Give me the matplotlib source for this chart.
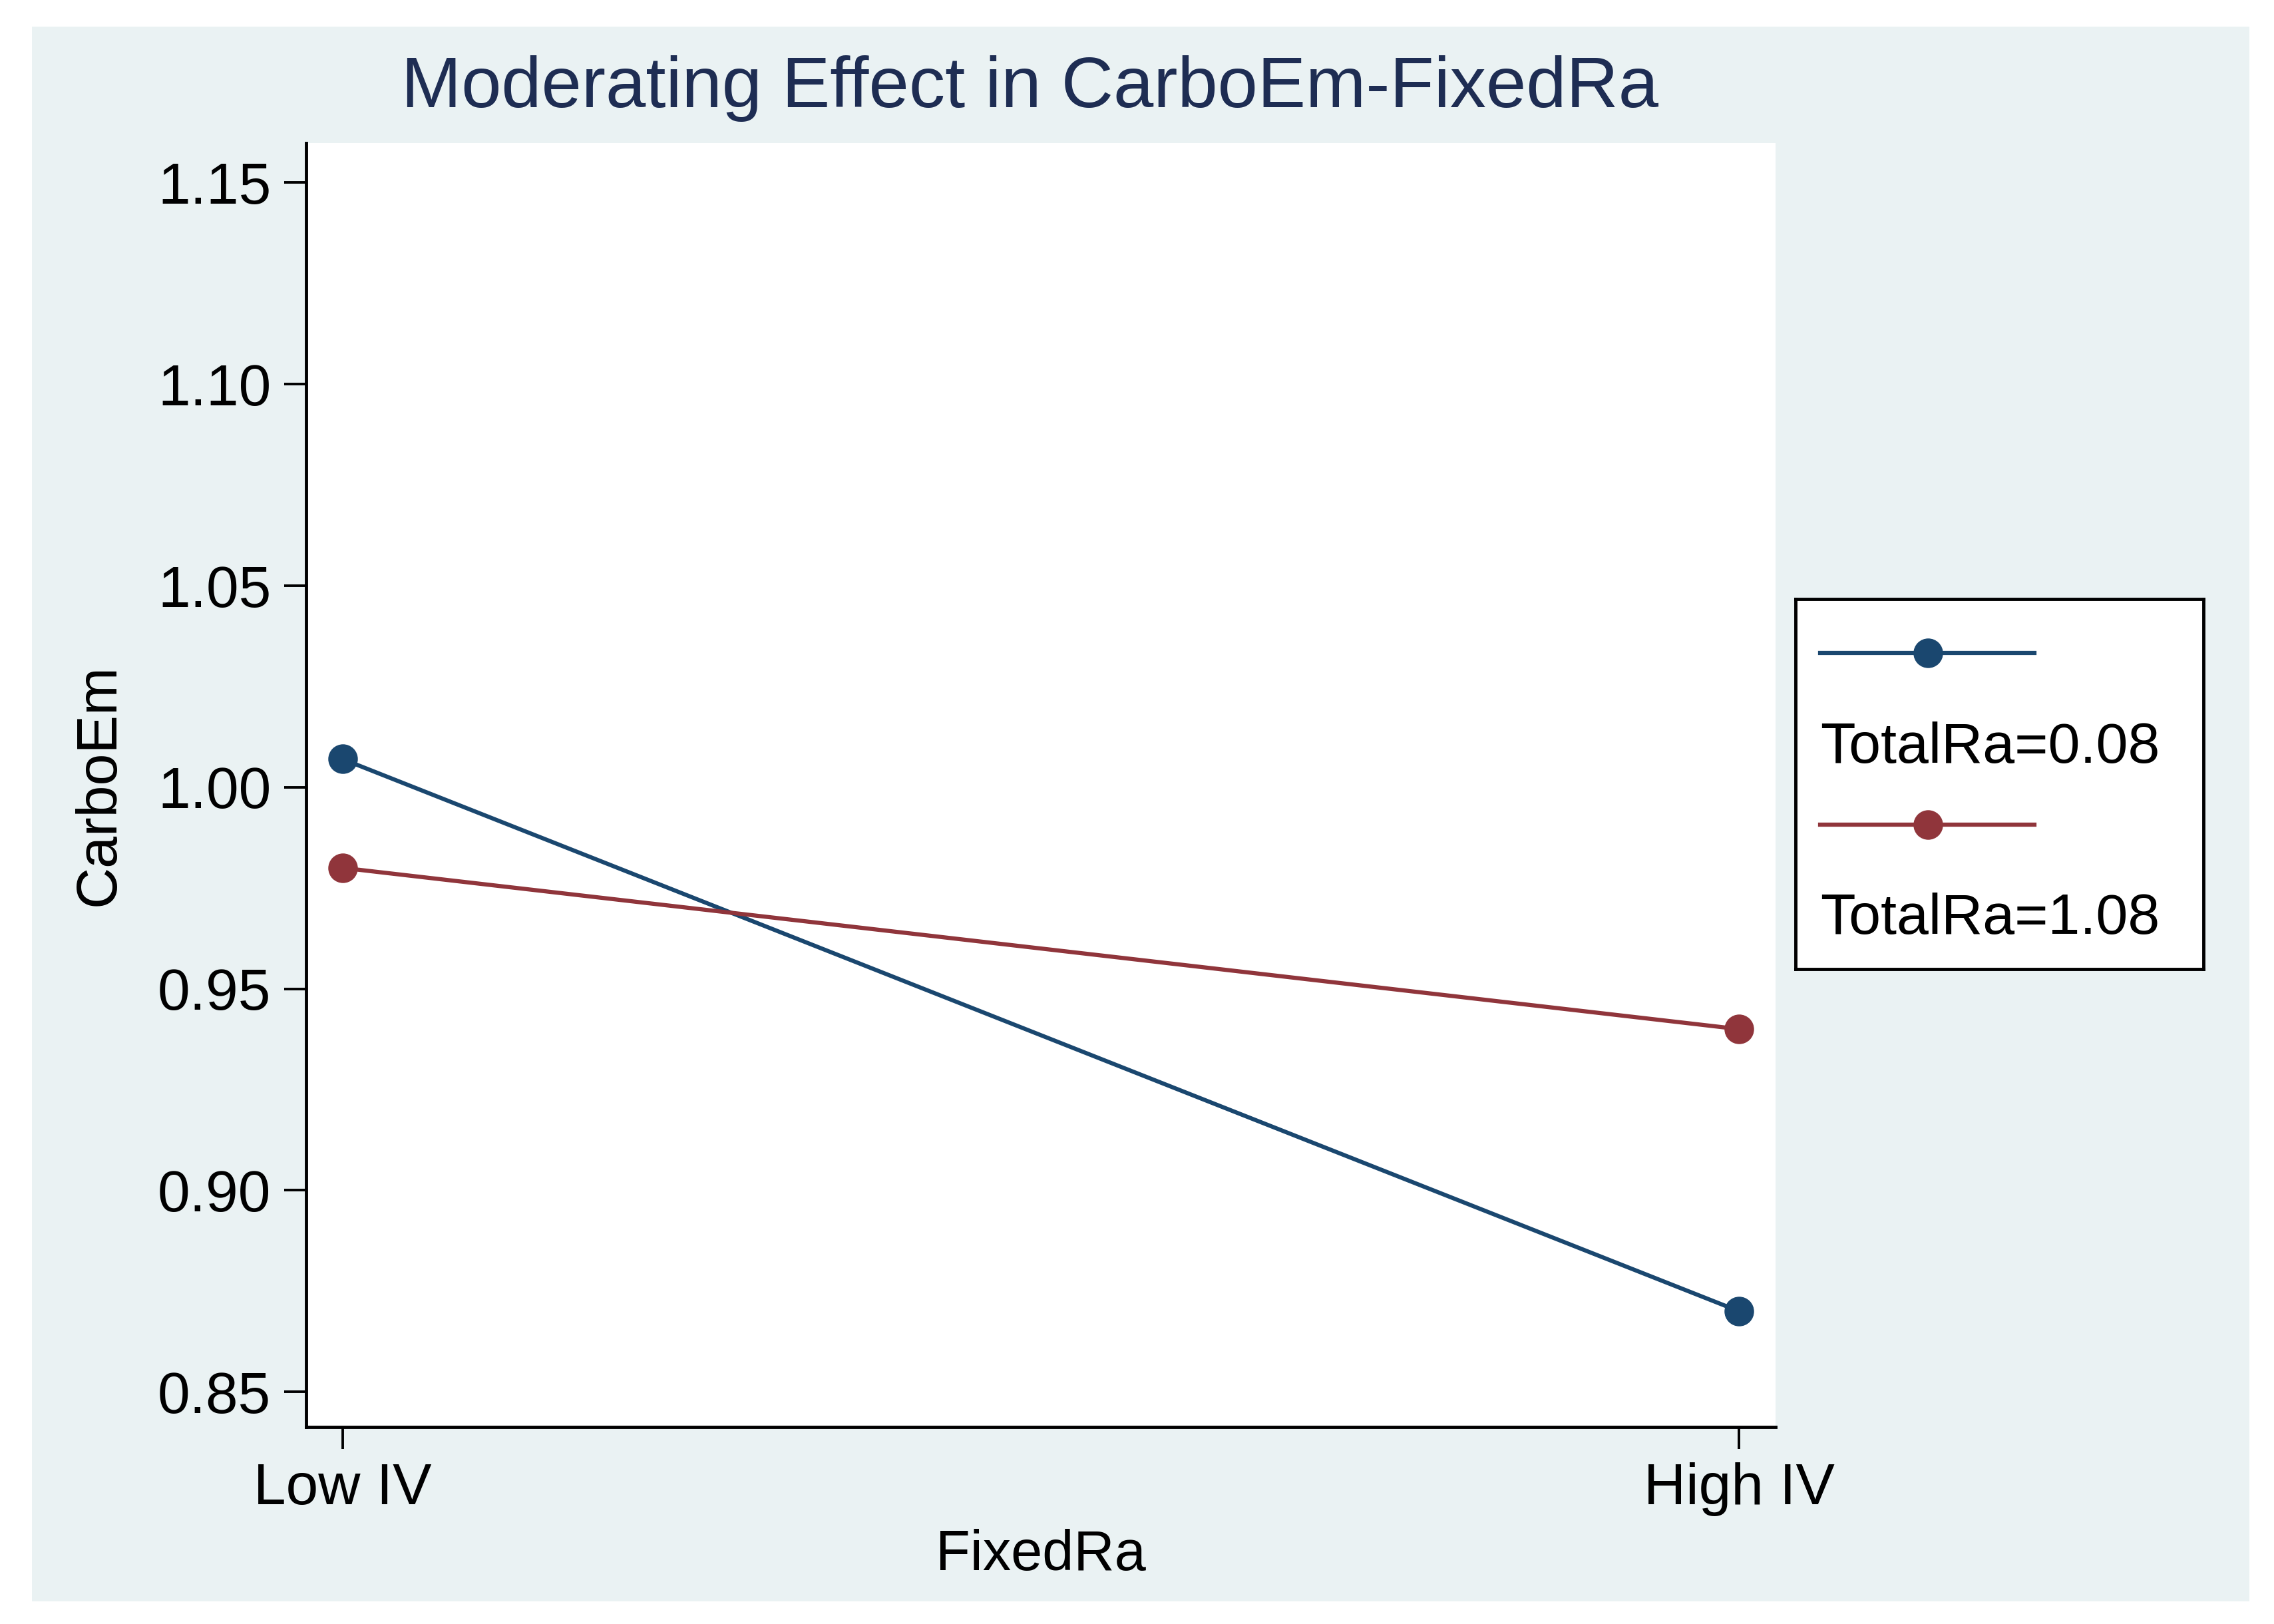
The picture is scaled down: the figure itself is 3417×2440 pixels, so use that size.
import matplotlib
matplotlib.use("Agg")
import matplotlib.pyplot as plt
from matplotlib.patches import Rectangle

# ============================================================
# DATA
# ============================================================

x_labels = ["Low IV", "High IV"]
x_pos = [0, 1]

series_names = ["TotalRa=0.08", "TotalRa=1.08"]
low_ra = [1.007, 0.870]
high_ra = [0.980, 0.940]

y_ticks = [0.85, 0.90, 0.95, 1.00, 1.05, 1.10, 1.15]

BLUE = "#1a476f"
RED = "#90353b"
PANEL = "#eaf2f3"
TITLE_COL = "#1e2d53"

LW = 4.5
MS = 31

plt.rcParams["font.family"] = ["Liberation Sans", "DejaVu Sans"]

# ============================================================
# FIGURE
# ============================================================

fig = plt.figure(figsize=(34.17, 24.40), dpi=100)
fig.patch.set_facecolor("white")

# outer graph region
fig.patches.append(
    Rectangle((48 / 3417, 1 - 2406 / 2440), (3380 - 48) / 3417, (2406 - 40) / 2440,
              transform=fig.transFigure, facecolor=PANEL, edgecolor="none", zorder=-5)
)

ax = fig.add_axes([460 / 3417, 1 - 2144 / 2440, (2668 - 460) / 3417, (2144 - 215) / 2440])
ax.set_facecolor("white")

ax.plot(x_pos, low_ra, color=BLUE, lw=LW, marker="o", ms=MS, zorder=3, clip_on=False)
ax.plot(x_pos, high_ra, color=RED, lw=LW, marker="o", ms=MS, zorder=3, clip_on=False)

ax.set_xlim(-0.026, 1.026)
ax.set_ylim(0.8413, 1.1598)

ax.set_xticks(x_pos)
ax.set_xticklabels(x_labels)
ax.set_yticks(y_ticks)
ax.set_yticklabels([f"{v:.2f}" for v in y_ticks])

for side in ["top", "right"]:
    ax.spines[side].set_visible(False)
for side in ["left", "bottom"]:
    ax.spines[side].set_linewidth(3.5)

ax.tick_params(axis="both", length=24, width=2.8, labelsize=63, pad=14)

ax.set_xlabel("FixedRa", fontsize=61, labelpad=14)
ax.set_ylabel("CarboEm", fontsize=62, labelpad=34)

fig.text(1548 / 3417, 1 - 133 / 2440, "Moderating Effect in CarboEm-FixedRa",
         ha="center", va="center", fontsize=78, color=TITLE_COL)

# ============================================================
# LEGEND (Stata style: key above label)
# ============================================================

lax = fig.add_axes([2698 / 3417, 1 - 1456 / 2440, 613 / 3417, 556 / 2440])
lax.set_xlim(0, 1)
lax.set_ylim(0, 1)
lax.set_xticks([])
lax.set_yticks([])
lax.set_facecolor("white")
for s in lax.spines.values():
    s.set_linewidth(3.5)

key_y = [0.854, 0.390]
text_y = [0.598, 0.134]
colors = [BLUE, RED]

for name, col, ky, ty in zip(series_names, colors, key_y, text_y):
    lax.plot([0.061, 0.586], [ky, ky], color=col, lw=LW)
    lax.plot([0.325], [ky], color=col, marker="o", ms=MS, lw=0)
    lax.text(0.061, ty, name, ha="left", va="center", fontsize=62)

fig.savefig("out.png", dpi=100)
